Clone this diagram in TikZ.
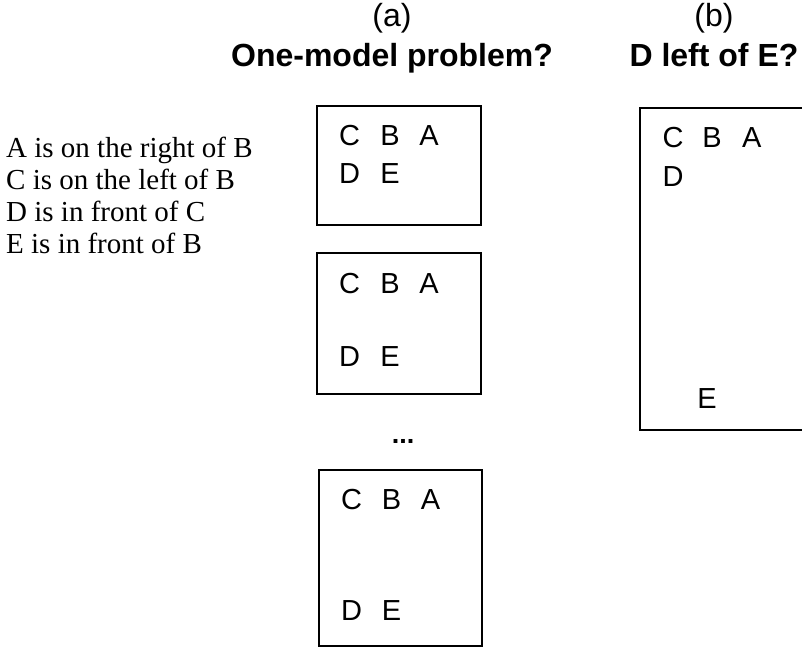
\documentclass[tikz,border=0pt]{standalone}
\usepackage{fontspec}
\setmainfont{Liberation Serif}
\newfontfamily\helv{Liberation Sans}
\begin{document}
\begin{tikzpicture}[x=1pt,y=-1pt,
  premise/.style={anchor=base west,inner sep=0pt,font=\fontsize{29}{29}\selectfont},
  heading/.style={anchor=base,inner sep=0pt,font=\helv\fontsize{32}{32}\selectfont},
  question/.style={anchor=base,inner sep=0pt,font=\helv\bfseries\fontsize{32}{32}\selectfont},
  token/.style={anchor=base,inner sep=0pt,font=\helv\fontsize{29}{29}\selectfont},
  model/.style={draw,line width=1.6pt,anchor=north west,inner sep=0pt}]
\useasboundingbox (0,0) rectangle (802,647);

% column headings
\node[heading]  (ha) at (392,27) {(a)};
\node[heading]  (hb) at (714,27) {(b)};
\node[question] (qa) at (392,67) {One-model problem?};
\node[question] (qb) at (714,67) {D left of E?};

% premises
\node[premise] (p1) at (6,157.5) {A is on the right of B};
\node[premise] (p2) at (6,189.5) {C is on the left of B};
\node[premise] (p3) at (6,221.5) {D is in front of C};
\node[premise] (p4) at (6,253.5) {E is in front of B};

% models for (a)
\node[model,minimum width=164pt,minimum height=119pt] (m1) at (316,105) {};
\node[token] (m1c) at (349.5,146) {C};
\node[token] (m1b) at (390,146) {B};
\node[token] (m1a) at (429,146) {A};
\node[token] (m1d) at (349.5,183.5) {D};
\node[token] (m1e) at (390,183.5) {E};

\node[model,minimum width=164pt,minimum height=141pt] (m2) at (316,252) {};
\node[token] (m2c) at (349.5,293) {C};
\node[token] (m2b) at (390,293) {B};
\node[token] (m2a) at (429,293) {A};
\node[token] (m2d) at (349.5,366.5) {D};
\node[token] (m2e) at (390,366.5) {E};

\node[anchor=base,inner sep=0pt,font=\helv\bfseries\fontsize{27}{27}\selectfont] (dots) at (403,443) {...};

\node[model,minimum width=163pt,minimum height=176pt] (m3) at (318,469) {};
\node[token] (m3c) at (351.5,509) {C};
\node[token] (m3b) at (391.5,509) {B};
\node[token] (m3a) at (430.5,509) {A};
\node[token] (m3d) at (351.5,620.5) {D};
\node[token] (m3e) at (391.5,620.5) {E};

% model for (b)
\node[model,minimum width=180pt,minimum height=322pt] (mb) at (639,107) {};
\node[token] (mbc) at (673,147.7) {C};
\node[token] (mbb) at (712,147.7) {B};
\node[token] (mba) at (751.7,147.7) {A};
\node[token] (mbd) at (673,186) {D};
\node[token] (mbe) at (707,408.5) {E};
\end{tikzpicture}
\end{document}
